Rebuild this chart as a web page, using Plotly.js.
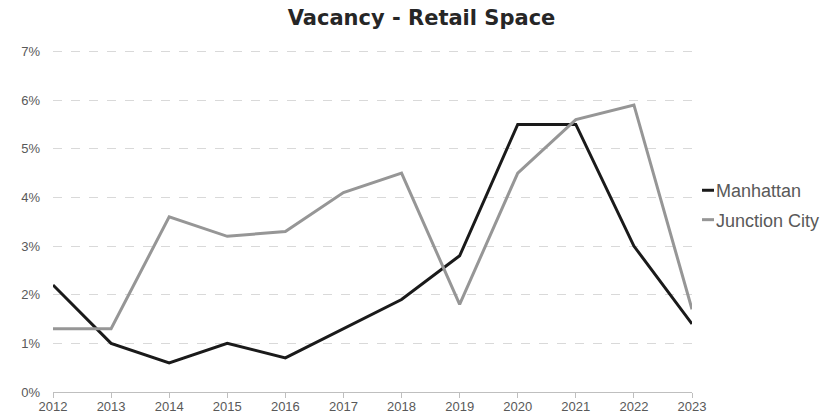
<!DOCTYPE html>
<html>
<head>
<meta charset="utf-8">
<script src="https://cdn.plot.ly/plotly-3.0.1.min.js"></script>
<style>html,body{margin:0;padding:0;background:#fff;}#chart{width:837px;height:415px;}</style>
</head>
<body>
<div id="chart"></div>
<script>
const years = [2012, 2013, 2014, 2015, 2016, 2017, 2018, 2019, 2020, 2021, 2022, 2023];
const manhattan = [2.2, 1.0, 0.6, 1.0, 0.7, 1.3, 1.9, 2.8, 5.5, 5.5, 3.0, 1.4];
const junctionCity = [1.3, 1.3, 3.6, 3.2, 3.3, 4.1, 4.5, 1.8, 4.5, 5.6, 5.9, 1.7];
const yTicks = [0, 1, 2, 3, 4, 5, 6, 7];
const yTickLabels = ["0%", "1%", "2%", "3%", "4%", "5%", "6%", "7%"];

const traces = [
  {x: years, y: manhattan, name: "Manhattan", type: "scatter", mode: "lines", legendgroup: "a",
   line: {color: "#1a1a1a", width: 3}},
  {x: years, y: junctionCity, name: "Junction City", type: "scatter", mode: "lines", legendgroup: "b",
   line: {color: "#969696", width: 3}}
];

const layout = {
  width: 837, height: 415,
  margin: {l: 53, r: 143, t: 49, b: 23},
  paper_bgcolor: "#fff", plot_bgcolor: "#fff",
  title: {text: "<b>Vacancy - Retail Space</b>", x: 0.5036, xanchor: "center", y: 0.957, yanchor: "middle",
          font: {family: "'DejaVu Sans', sans-serif", size: 21, color: "#262626"}},
  font: {family: "'Liberation Sans', Arial, sans-serif", size: 13, color: "#595959"},
  xaxis: {range: [2012, 2023], tickvals: years, ticktext: years.map(String),
          showgrid: false, zeroline: false, showline: true, linecolor: "#bfbfbf", linewidth: 1,
          ticks: "outside", ticklen: 5, tickcolor: "#bfbfbf", ticklabelstandoff: -3,
          tickfont: {size: 13, color: "#595959"}},
  yaxis: {range: [0, 7.05], tickvals: yTicks, ticktext: yTickLabels,
          showgrid: true, gridcolor: "#d9d9d9", griddash: "dash", gridwidth: 1,
          zeroline: false, showline: false, ticks: "", ticklabelstandoff: 12,
          tickfont: {size: 13, color: "#595959"}},
  legend: {x: 0.975, xanchor: "left", y: 0.545, yanchor: "middle", itemwidth: 30,
           traceorder: "grouped", tracegroupgap: 3,
           font: {size: 18, color: "#595959"}, bgcolor: "rgba(0,0,0,0)"},
  showlegend: true
};

Plotly.newPlot("chart", traces, layout, {displayModeBar: false, staticPlot: true}).then(function () {
  document.querySelectorAll("#chart .legendlines path").forEach(function (p) {
    p.setAttribute("d", "M26,0h12");
  });
});
</script>
</body>
</html>
